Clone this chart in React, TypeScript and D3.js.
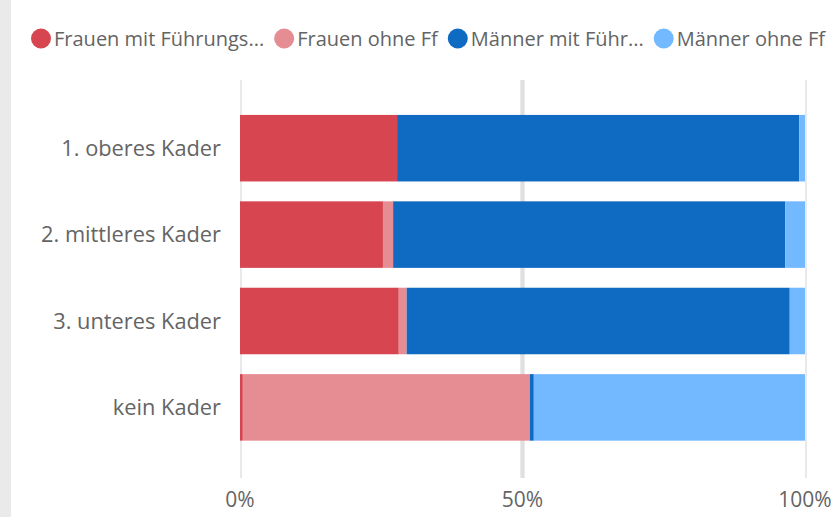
import React, { useEffect, useRef } from "react";
import * as d3 from "d3";

const categories = ["1. oberes Kader", "2. mittleres Kader", "3. unteres Kader", "kein Kader"];
const seriesNames = ["Frauen mit Führungs...", "Frauen ohne Ff", "Männer mit Führ...", "Männer ohne Ff"];
const frauenMitFf = [27.8, 25.3, 28.1, 0.5];
const frauenOhneFf = [0, 1.8, 1.4, 50.8];
const maennerMitFf = [71.2, 69.4, 67.8, 0.7];
const maennerOhneFf = [1.0, 3.5, 2.7, 48.0];
const tickValues = [0, 50, 100];
const tickLabels = ["0%", "50%", "100%"];
const colors = ["#D64550", "#E68C93", "#0F6BC2", "#73B9FF"];

const W = 835;
const H = 517;
const FONT = "'Open Sans', 'Segoe UI', sans-serif";
const TEXT = "#646464";

export default function App() {
  const ref = useRef<SVGSVGElement | null>(null);

  useEffect(() => {
    const svg = d3.select(ref.current);
    svg.selectAll("*").remove();

    // left strip
    svg.append("rect").attr("x", 0).attr("y", 0).attr("width", 11).attr("height", H).attr("fill", "#EAEAEA");

    const x = d3.scaleLinear().domain([0, 100]).range([240, 805]);
    const y = d3.scaleBand<string>().domain(categories).range([105, 450.6]).paddingInner(0.23).paddingOuter(0.115);

    const rows = categories.map((c, i) => ({
      cat: c,
      s0: frauenMitFf[i],
      s1: frauenOhneFf[i],
      s2: maennerMitFf[i],
      s3: maennerOhneFf[i],
    }));
    const stack = d3.stack<any>().keys(["s0", "s1", "s2", "s3"]);
    const layers = stack(rows);

    // gridlines
    const grid = svg.append("g");
    tickValues.forEach((t) => {
      const gx = x(t);
      if (t === 50) {
        grid.append("line").attr("x1", gx).attr("x2", gx).attr("y1", 80).attr("y2", 478)
          .attr("stroke", "#EAEAEA").attr("stroke-width", 5);
        grid.append("line").attr("x1", gx).attr("x2", gx).attr("y1", 80).attr("y2", 478)
          .attr("stroke", "#DEDEDE").attr("stroke-width", 2.5);
      } else {
        grid.append("line").attr("x1", gx + 1).attr("x2", gx + 1).attr("y1", 80).attr("y2", 478)
          .attr("stroke", "#E9E9E9").attr("stroke-width", 2);
      }
    });

    // bars
    layers.forEach((layer, li) => {
      svg.append("g").attr("fill", colors[li])
        .selectAll("rect").data(layer).join("rect")
        .attr("x", (d: any) => x(d[0]))
        .attr("width", (d: any) => Math.max(0, x(d[1]) - x(d[0])))
        .attr("y", (d: any) => y(d.data.cat)!)
        .attr("height", y.bandwidth());
    });

    // y labels
    svg.append("g").selectAll("text").data(categories).join("text")
      .attr("x", 221)
      .attr("y", (d) => y(d)! + y.bandwidth() / 2)
      .attr("dy", "0.35em")
      .attr("text-anchor", "end")
      .attr("font-family", FONT)
      .attr("font-size", 21.8)
      .attr("fill", TEXT)
      .text((d) => d);

    // x tick labels
    svg.append("g").selectAll("text").data(tickValues).join("text")
      .attr("x", (d) => x(d))
      .attr("y", 507)
      .attr("text-anchor", "middle")
      .attr("font-family", FONT)
      .attr("font-size", 21)
      .attr("fill", TEXT)
      .text((d, i) => tickLabels[i]);

    // legend
    const legend = svg.append("g");
    let cx = 31;
    seriesNames.forEach((name, i) => {
      const r = 10;
      legend.append("circle").attr("cx", cx + r).attr("cy", 38.5).attr("r", r).attr("fill", colors[i]);
      const t = legend.append("text")
        .attr("x", cx + 2 * r + 3)
        .attr("y", 38.5)
        .attr("dy", "0.35em")
        .attr("font-family", FONT)
        .attr("font-size", 20)
        .attr("fill", TEXT)
        .text(name);
      const w = (t.node() as SVGTextElement).getComputedTextLength();
      cx = cx + 2 * r + 3 + w + 10;
    });
  }, []);

  return (
    <svg
      ref={ref}
      width={W}
      height={H}
      style={{ position: "absolute", left: 0, top: 0, background: "#ffffff" }}
    />
  );
}
